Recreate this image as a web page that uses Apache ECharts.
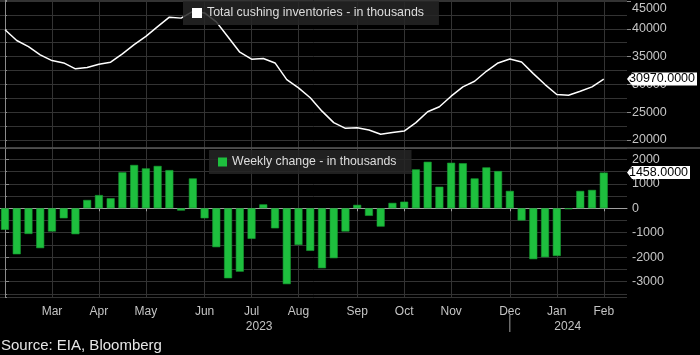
<!DOCTYPE html>
<html>
<head>
<meta charset="utf-8">
<script src="https://cdn.jsdelivr.net/npm/echarts@6/dist/echarts.min.js"></script>
<style>
html,body{margin:0;padding:0;background:#000;}
#chart{width:700px;height:355px;}
</style>
</head>
<body>
<div id="chart"></div>
<script>
// Weekly series (Feb 2023 - Feb 2024), index = week number
const inventory = [
  39820, 37900, 36800, 35300, 34280, 33860, 32800, 33050, 33620, 34000,
  35500, 37150, 38650, 40400, 42090, 41920, 43130, 42850, 41250, 38530,
  35790, 34540, 34650, 33860, 30870, 29380, 27600, 25190, 23120, 22100,
  22220, 21790, 21020, 21330, 21610, 23120, 25080, 25980, 27880, 29560,
  30570, 32360, 33860, 34570, 34030, 31940, 29970, 28180, 28060, 28770,
  29560, 30970
];
const weeklyChange = [
  -880, -1880, -1050, -1630, -950, -410, -1060, 340, 540, 410,
  1470, 1770, 1630, 1730, 1560, -95, 1220, -410, -1590, -2860,
  -2590, -1250, 160, -820, -3100, -1500, -1740, -2450, -2040, -950,
  140, -310, -750, 220, 270, 1590, 1900, 880, 1860, 1840,
  1220, 1670, 1520, 710, -500, -2080, -2000, -1950, -40, 710,
  750, 1458
];
const monthLabels = ['Mar','Apr','May','Jun','Jul','Aug','Sep','Oct','Nov','Dec','Jan','Feb'];
const monthTickWeek = [4, 8, 12, 17, 21, 25, 30, 34, 38, 43, 47, 51];
const yearLabels = ['2023', '2024'];
const yearLabelWeek = [21.65, 47.93];
const yearDividerWeek = [43];
const inventoryTicks = [20000, 25000, 30000, 35000, 40000, 45000];
const changeTicks = [-3000, -2000, -1000, 0, 1000, 2000];
const invName = 'Total cushing inventories - in thousands';
const chgName = 'Weekly change - in thousands';

const FONT = '"Liberation Sans", Arial, sans-serif';
const xMin = -0.426, xMax = 52.98;
const gridColor = '#333333';
const labelColor = '#c4c4c4';

const chart = echarts.init(document.getElementById('chart'), null, {renderer: 'canvas'});

function xAxisBase(gridIndex) {
  return {type: 'value', gridIndex: gridIndex, min: xMin, max: xMax, position: 'bottom'};
}

const option = {
  backgroundColor: '#000',
  animation: false,
  textStyle: {fontFamily: FONT},
  title: {
    text: 'Source: EIA, Bloomberg',
    left: 1, top: 338, padding: 0,
    textStyle: {color: '#e6e6e6', fontSize: 15, fontWeight: 'normal', fontFamily: FONT}
  },
  legend: [
    {
      data: [invName], left: 183, top: 1,
      backgroundColor: 'rgba(38,38,38,0.85)', padding: [6, 15, 6, 9],
      icon: 'rect', itemWidth: 10, itemHeight: 10,
      textStyle: {color: '#dddddd', fontSize: 12.4, fontFamily: FONT},
      selectedMode: false
    },
    {
      data: [{name: chgName, itemStyle: {borderWidth: 0}}], left: 209, top: 150,
      backgroundColor: 'rgba(38,38,38,0.85)', padding: [6, 15, 6, 9],
      icon: 'rect', itemWidth: 9, itemHeight: 9,
      textStyle: {color: '#dddddd', fontSize: 12.3, fontFamily: FONT},
      selectedMode: false
    }
  ],
  grid: [
    {left: 0, right: 73, top: 0, height: 148},
    {left: 0, right: 73, top: 148, height: 149.3}
  ],
  xAxis: [
    Object.assign(xAxisBase(0), {
      axisLine: {show: false},
      axisTick: {show: false, customValues: monthTickWeek},
      axisLabel: {show: false},
      splitLine: {show: true, lineStyle: {color: gridColor, width: 1}}
    }),
    Object.assign(xAxisBase(1), {
      axisLine: {show: true, lineStyle: {color: '#a0a0a0', width: 1}},
      axisTick: {show: true, length: 3, customValues: monthTickWeek, lineStyle: {color: '#a0a0a0'}},
      axisLabel: {
        show: true, customValues: monthTickWeek, margin: 8,
        color: labelColor, fontSize: 12, fontFamily: FONT,
        formatter: function (v) {
          const k = monthTickWeek.indexOf(v);
          return k >= 0 ? monthLabels[k] : '';
        }
      },
      splitLine: {show: true, lineStyle: {color: gridColor, width: 1}}
    }),
    Object.assign(xAxisBase(1), {
      offset: 17.7,
      axisLine: {show: false},
      axisTick: {show: false},
      axisLabel: {
        show: true, customValues: yearLabelWeek, margin: 6,
        color: labelColor, fontSize: 12, fontFamily: FONT,
        formatter: function (v) {
          const k = yearLabelWeek.indexOf(v);
          return k >= 0 ? yearLabels[k] : '';
        }
      },
      splitLine: {show: false}
    })
  ],
  yAxis: [
    {
      type: 'value', gridIndex: 0, position: 'right', min: 18561, max: 45180,
      minInterval: 2500, maxInterval: 2500,
      axisLine: {show: true, lineStyle: {color: '#8a8a8a'}},
      axisTick: {show: true, inside: false, length: 2, lineStyle: {color: '#8a8a8a'}},
      axisLabel: {show: false},
      splitLine: {show: true, lineStyle: {color: gridColor, width: 1}}
    },
    {
      type: 'value', gridIndex: 0, position: 'right', min: 18561, max: 45180,
      axisLine: {show: false},
      axisTick: {show: true, length: 4, customValues: inventoryTicks, lineStyle: {color: '#8a8a8a'}},
      axisLabel: {
        show: true, customValues: inventoryTicks, margin: 5,
        color: labelColor, fontSize: 12.5, fontFamily: FONT,
        formatter: function (v) { return v === 45000 ? '{top|' + v + '}' : String(v); },
        rich: {top: {padding: [16, 0, 0, 0], color: labelColor, fontSize: 12.5, fontFamily: FONT}}
      },
      splitLine: {show: false}
    },
    {
      type: 'value', gridIndex: 1, position: 'right', min: -3637, max: 2462,
      minInterval: 500, maxInterval: 500,
      axisLine: {show: true, lineStyle: {color: '#8a8a8a'}},
      axisTick: {show: true, length: 2, lineStyle: {color: '#8a8a8a'}},
      axisLabel: {show: false},
      splitLine: {show: true, lineStyle: {color: gridColor, width: 1}}
    },
    {
      type: 'value', gridIndex: 1, position: 'right', min: -3637, max: 2462,
      axisLine: {show: false},
      axisTick: {show: true, length: 4, customValues: changeTicks, lineStyle: {color: '#8a8a8a'}},
      axisLabel: {
        show: true, customValues: changeTicks, margin: 5,
        color: labelColor, fontSize: 12.5, fontFamily: FONT,
        formatter: function (v) { return String(v); }
      },
      splitLine: {show: false}
    }
  ],
  graphic: [
    {type: 'line', shape: {x1: 0, y1: 148, x2: 700, y2: 148}, style: {stroke: '#5a5a5a', lineWidth: 1.5}, z: 50}
  ],
  series: [
    {
      name: invName, type: 'line', xAxisIndex: 0, yAxisIndex: 0,
      data: inventory.map(function (v, i) { return [i, v]; }),
      showSymbol: false, symbol: 'none',
      itemStyle: {color: '#ffffff'},
      lineStyle: {color: '#ffffff', width: 1.5},
      z: 3,
      markPoint: {
        symbol: 'path://M0,6.5 L5,0 L70,0 L70,13 L5,13 Z',
        symbolSize: [70, 13], symbolKeepAspect: false, symbolOffset: [35, 0],
        itemStyle: {color: '#ffffff'},
        label: {show: true, position: 'inside', color: '#000', fontSize: 12.5, fontFamily: FONT,
          formatter: function (p) { return Number(p.value).toFixed(4); }},
        data: [{coord: [xMax - 0.0001, inventory[inventory.length - 1]], value: inventory[inventory.length - 1]}]
      }
    },
    {
      name: chgName, type: 'bar', xAxisIndex: 1, yAxisIndex: 2,
      data: weeklyChange.map(function (v, i) { return [i, v]; }),
      barWidth: 8,
      itemStyle: {color: '#1ebf3e', borderColor: '#159c30', borderWidth: 0.6},
      z: 3,
      markPoint: {
        symbol: 'path://M0,6.5 L5,0 L63,0 L63,13 L5,13 Z',
        symbolSize: [63, 13], symbolKeepAspect: false, symbolOffset: [31.5, 0],
        itemStyle: {color: '#ffffff', borderWidth: 0},
        label: {show: true, position: 'inside', color: '#000', fontSize: 12.5, fontFamily: FONT,
          formatter: function (p) { return Number(p.value).toFixed(4); }},
        data: [{coord: [xMax - 0.0001, weeklyChange[weeklyChange.length - 1]], value: weeklyChange[weeklyChange.length - 1]}]
      }
    }
  ]
};
chart.setOption(option);

// Year divider below the axis, placed through the axis scale
const dividers = yearDividerWeek.map(function (w) {
  const px = chart.convertToPixel({xAxisIndex: 1}, w);
  return {type: 'line', shape: {x1: px, y1: 315, x2: px, y2: 332}, style: {stroke: '#a0a0a0', lineWidth: 1}};
});
chart.setOption({graphic: option.graphic.concat(dividers)});
</script>
</body>
</html>
